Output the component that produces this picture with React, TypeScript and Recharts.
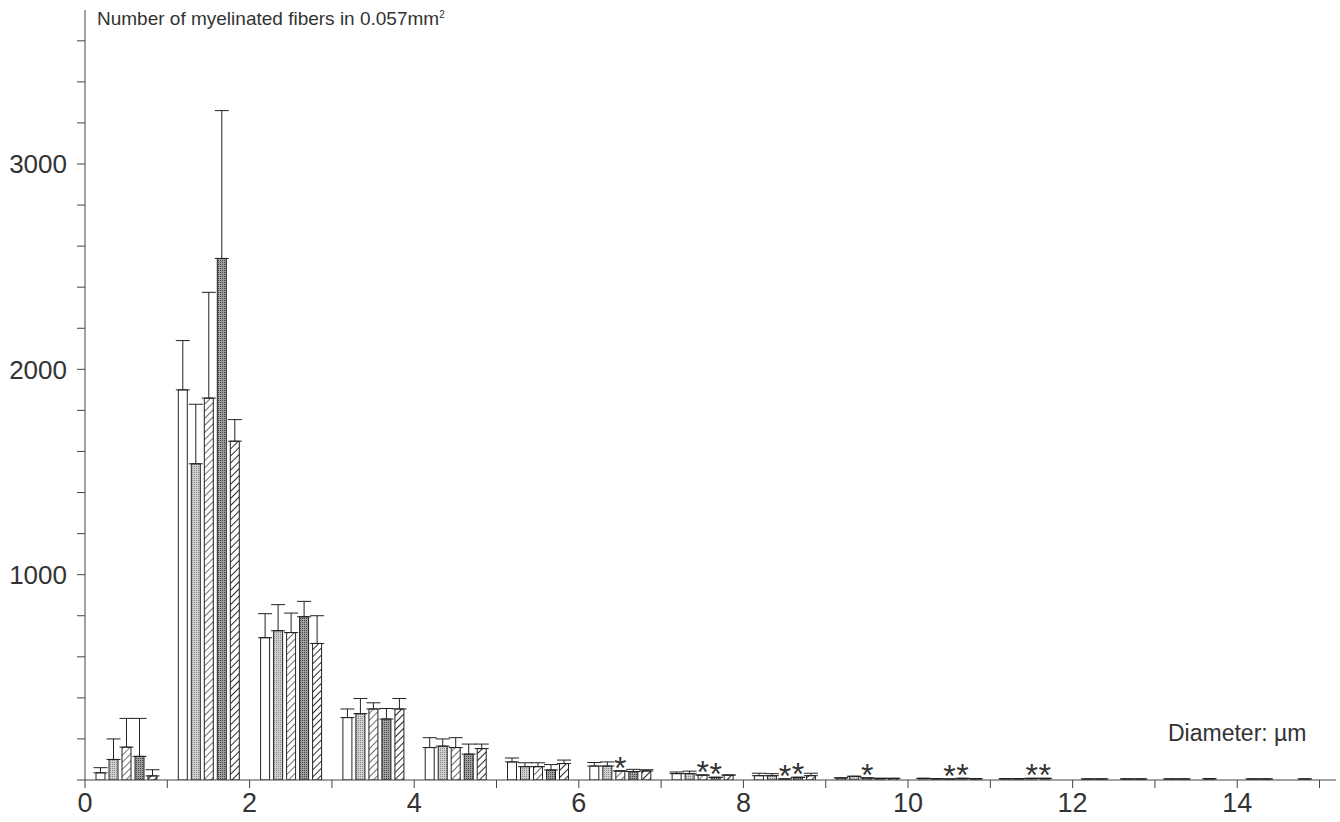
import { Bar, BarChart, ErrorBar, LabelList, XAxis, YAxis } from "recharts";

// bin centres of the fibre diameter histogram (µm)
const binCenters = [0.5, 1.5, 2.5, 3.5, 4.5, 5.5, 6.5, 7.5, 8.5, 9.5, 10.5, 11.5, 12.5, 13.5, 14.5];

// mean counts per group
const groupA = [35, 1900, 693, 304, 158, 88, 68, 31, 21, 10, 8, 6, 5, 5, 5];
const groupB = [100, 1540, 727, 323, 165, 65, 68, 31, 21, 18, 6, 6, 5, 5, 5];
const groupC = [160, 1860, 718, 346, 158, 65, 44, 24, 5, 10, 5, 8, 0, 0, 0];
const groupD = [115, 2540, 795, 297, 126, 49, 41, 13, 13, 8, 8, 8, 5, 6, 0];
const groupE = [20, 1650, 665, 346, 153, 80, 44, 24, 21, 8, 6, 0, 5, 0, 5];

// SD (upper whisker only)
const sdA = [25, 240, 117, 42, 48, 19, 17, 8, 12, 0, 0, 0, 0, 0, 0];
const sdB = [100, 290, 127, 74, 35, 19, 20, 12, 10, 0, 0, 0, 0, 0, 0];
const sdC = [140, 515, 95, 30, 48, 19, 0, 0, 0, 0, 0, 0, 0, 0, 0];
const sdD = [185, 720, 75, 51, 49, 26, 11, 0, 0, 0, 0, 0, 0, 0, 0];
const sdE = [30, 105, 135, 51, 22, 17, 6, 0, 12, 0, 0, 0, 0, 0, 0];

// significance marks
const starsC = ["", "", "", "", "", "", "*", "*", "*", "*", "*", "*", "", "", ""];
const starsD = ["", "", "", "", "", "", "", "*", "*", "", "*", "*", "", "", ""];

const xTicks = [0, 1, 2, 3, 4, 5, 6, 7, 8, 9, 10, 11, 12, 13, 14, 15];
const yTicks = [0, 200, 400, 600, 800, 1000, 1200, 1400, 1600, 1800, 2000, 2200, 2400, 2600, 2800, 3000, 3200, 3400, 3600];

const data = binCenters.map((x, i) => ({
  x,
  a: groupA[i],
  b: groupB[i],
  c: groupC[i],
  d: groupD[i],
  e: groupE[i],
  ea: [0, sdA[i]],
  eb: [0, sdB[i]],
  ec: [0, sdC[i]],
  ed: [0, sdD[i]],
  ee: [0, sdE[i]],
  sc: starsC[i],
  sd: starsD[i],
}));

const FONT = '"Liberation Sans", Arial, Helvetica, sans-serif';
const INK = "#333";

function Star(props: any) {
  if (props.value !== "*") return null;
  const vb = props.viewBox || {};
  const x = (props.x ?? vb.x) + (props.width ?? vb.width) / 2;
  const y = props.y ?? vb.y;
  return (
    <text x={x} y={y + 8} textAnchor="middle" fontSize={32} fontFamily={FONT} fill={INK}>
      *
    </text>
  );
}

export default function App() {
  return (
    <div style={{ position: "absolute", left: 0, top: 0, width: 1340, height: 822, background: "#fff", fontFamily: FONT }}>
      <BarChart
        width={1340}
        height={822}
        data={data}
        margin={{ top: 10, right: 4, left: 0, bottom: 0 }}
        barSize={9}
        barGap={4}
      >
        <defs>
          <pattern id="lightDots" width="2" height="2" patternUnits="userSpaceOnUse">
            <rect width="2" height="2" fill="#d0d0d0" />
            <rect width="1" height="1" fill="#8a8a8a" />
          </pattern>
          <pattern id="darkDots" width="2" height="2" patternUnits="userSpaceOnUse">
            <rect width="2" height="2" fill="#a0a0a0" />
            <rect width="1" height="1" fill="#444" />
          </pattern>
          <pattern id="hatch" width="5" height="5" patternUnits="userSpaceOnUse" patternTransform="rotate(45)">
            <rect width="5" height="5" fill="#fff" />
            <line x1="0" y1="0" x2="0" y2="5" stroke="#222" strokeWidth="1.3" />
          </pattern>
          <pattern id="hatchBold" width="5" height="5" patternUnits="userSpaceOnUse" patternTransform="rotate(45)">
            <rect width="5" height="5" fill="#fff" />
            <line x1="0" y1="0" x2="0" y2="5" stroke="#111" strokeWidth="1.8" />
          </pattern>
        </defs>
        <XAxis
          dataKey="x"
          type="number"
          domain={[0, 15.2]}
          allowDataOverflow
          ticks={xTicks}
          interval={0}
          height={42}
          tickSize={8}
          tickMargin={5}
          tickFormatter={(v: number) => (v % 2 === 0 ? String(v) : "")}
          tick={{ fontSize: 27, fill: INK, fontFamily: FONT }}
          stroke="#444"
        />
        <YAxis
          type="number"
          domain={[0, 3750]}
          allowDataOverflow
          ticks={yTicks}
          interval={0}
          width={85}
          tickSize={8}
          tickMargin={10}
          tickFormatter={(v: number) => (v > 0 && v % 1000 === 0 ? String(v) : "")}
          tick={{ fontSize: 26, fill: INK, fontFamily: FONT }}
          stroke="#444"
        />
        <Bar dataKey="a" fill="#fff" stroke="#222" strokeWidth={1} isAnimationActive={false}>
          <ErrorBar dataKey="ea" width={7} stroke="#222" strokeWidth={1} />
        </Bar>
        <Bar dataKey="b" fill="url(#lightDots)" stroke="#222" strokeWidth={1} isAnimationActive={false}>
          <ErrorBar dataKey="eb" width={7} stroke="#222" strokeWidth={1} />
        </Bar>
        <Bar dataKey="c" fill="url(#hatch)" stroke="#222" strokeWidth={1} isAnimationActive={false}>
          <ErrorBar dataKey="ec" width={7} stroke="#222" strokeWidth={1} />
          <LabelList dataKey="sc" content={Star} />
        </Bar>
        <Bar dataKey="d" fill="url(#darkDots)" stroke="#222" strokeWidth={1} isAnimationActive={false}>
          <ErrorBar dataKey="ed" width={7} stroke="#222" strokeWidth={1} />
          <LabelList dataKey="sd" content={Star} />
        </Bar>
        <Bar dataKey="e" fill="url(#hatchBold)" stroke="#222" strokeWidth={1} isAnimationActive={false}>
          <ErrorBar dataKey="ee" width={7} stroke="#222" strokeWidth={1} />
        </Bar>
      </BarChart>
      <div style={{ position: "absolute", left: 97, top: 8, fontSize: 19, color: INK, whiteSpace: "nowrap" }}>
        Number of myelinated fibers in 0.057mm<sup style={{ fontSize: 10 }}>2</sup>
      </div>
      <div style={{ position: "absolute", left: 1168, top: 720, fontSize: 23, color: INK, whiteSpace: "nowrap" }}>
        Diameter: µm
      </div>
    </div>
  );
}
